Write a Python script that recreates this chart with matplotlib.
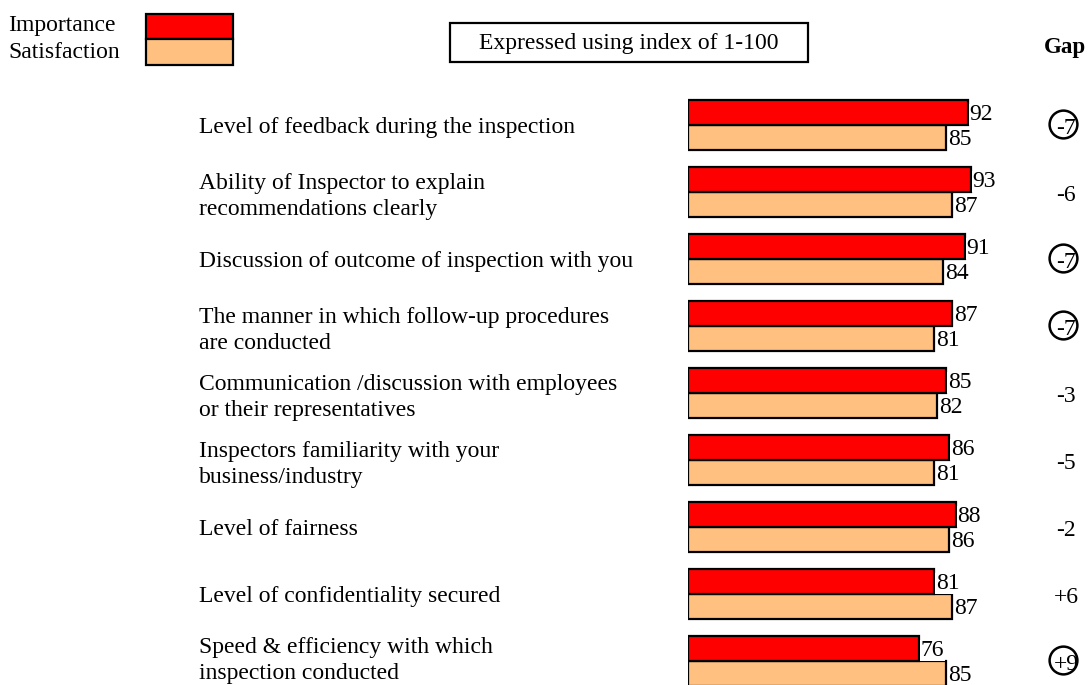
import numpy as np
import matplotlib
matplotlib.use("Agg")
import matplotlib.pyplot as plt
from matplotlib.patches import Rectangle

plt.rcParams["font.family"] = ["Liberation Serif", "DejaVu Serif"]

# ─── Data ─────────────────────────────────────────────────────────
categories = [
    "Level of feedback during the inspection",
    "Ability of Inspector to explain\nrecommendations clearly",
    "Discussion of outcome of inspection with you",
    "The manner in which follow-up procedures\nare conducted",
    "Communication /discussion with employees\nor their representatives",
    "Inspectors familiarity with your\nbusiness/industry",
    "Level of fairness",
    "Level of confidentiality secured",
    "Speed & efficiency with which\ninspection conducted",
]
importance = [92, 93, 91, 87, 85, 86, 88, 81, 76]
satisfaction = [85, 87, 84, 81, 82, 81, 86, 87, 85]
gap_labels = ["-7", "-6", "-7", "-7", "-3", "-5", "-2", "+6", "+9"]
gap_circled = [True, False, True, True, False, False, False, False, True]

RED = "#FF0000"
ORANGE = "#FFC080"
FS = 17

W, H = 1092, 685
fig = plt.figure(figsize=(W / 100, H / 100), dpi=100)


def fx(px):
    return px / W


def fy(py):
    return 1 - py / H


# ─── Bars ─────────────────────────────────────────────────────────
PX_PER_UNIT = 3.04
ROW_PX = 67
ax = fig.add_axes([fx(688), fy(694.5), 100 * PX_PER_UNIT / W, 603 / H])
ax.set_xlim(0, 100)
ax.set_ylim(len(categories) - 0.5, -0.5)
ax.axis("off")

y = np.arange(len(categories))
bh = 25 / ROW_PX
ax.barh(y + bh / 2, satisfaction, height=bh, color=ORANGE, edgecolor="black",
        linewidth=1.6, zorder=2)
ax.barh(y - bh / 2, importance, height=bh, color=RED, edgecolor="black",
        linewidth=1.6, zorder=3)

gap_x = (1066 - 688) / PX_PER_UNIT
circ_x = (1063.5 - 688) / PX_PER_UNIT
label_x = (199 - 688) / PX_PER_UNIT

for i in range(len(categories)):
    ax.annotate(str(importance[i]), (importance[i], i - bh / 2), xytext=(1.5, -2),
                textcoords="offset pixels", ha="left", va="center", fontsize=FS,
                zorder=5, bbox=dict(boxstyle="square,pad=0.02", fc="white", ec="none"))
    ax.annotate(str(satisfaction[i]), (satisfaction[i], i + bh / 2), xytext=(1.5, -2),
                textcoords="offset pixels", ha="left", va="center", fontsize=FS,
                zorder=4)
    # category label on the left (last one sits a little higher so it fits)
    ly = i - (5 / ROW_PX if i == len(categories) - 1 else 0)
    ax.text(label_x, ly, categories[i], ha="left", va="center_baseline", fontsize=FS,
            linespacing=1.3, clip_on=False)
    # gap column
    ax.text(gap_x, i + 1 / ROW_PX, gap_labels[i], ha="center", va="center_baseline",
            fontsize=FS, clip_on=False)

circ = [i - 0.5 / ROW_PX for i in range(len(categories)) if gap_circled[i]]
ax.scatter([circ_x] * len(circ), circ, s=20 ** 2, marker="o", facecolors="none",
           edgecolors="black", linewidths=1.8, clip_on=False, zorder=6)

# ─── Header / legend ──────────────────────────────────────────────
fig.text(fx(8), fy(26), "Importance", ha="left", va="center", fontsize=FS)
fig.text(fx(8), fy(52), "Satisfaction", ha="left", va="center", fontsize=FS)
fig.patches.append(Rectangle((fx(146), fy(39)), fx(87), 25 / H, transform=fig.transFigure,
                             fc=RED, ec="black", lw=1.6, figure=fig))
fig.patches.append(Rectangle((fx(146), fy(65)), fx(87), 26 / H, transform=fig.transFigure,
                             fc=ORANGE, ec="black", lw=1.6, figure=fig))

fig.patches.append(Rectangle((fx(450), fy(62)), fx(358), 39 / H, transform=fig.transFigure,
                             fc="white", ec="black", lw=1.6, figure=fig))
fig.text(fx(629), fy(44), "Expressed using index of 1-100", ha="center", va="center",
         fontsize=FS)
fig.text(fx(1065), fy(47), "Gap", ha="center", va="center", fontsize=16.5,
         fontweight="bold")

fig.savefig("out.png", dpi=100)
